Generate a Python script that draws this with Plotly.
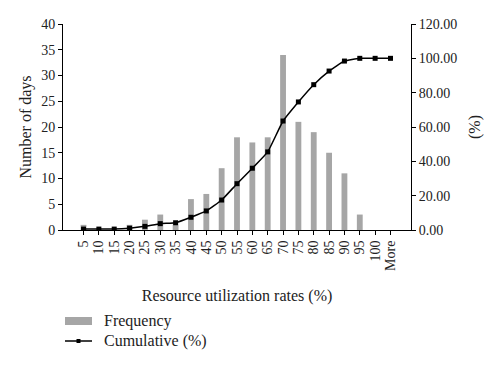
import plotly.graph_objects as go

categories = ["5", "10", "15", "20", "25", "30", "35", "40", "45", "50", "55",
              "60", "65", "70", "75", "80", "85", "90", "95", "100", "More"]
frequency = [1, 0, 0, 1, 2, 3, 1, 6, 7, 12, 18, 17, 18, 34, 21, 19, 15, 11, 3, 0, 0]
cumulative = [0.53, 0.53, 0.53, 1.06, 2.12, 3.70, 4.23, 7.41, 11.11, 17.46, 26.98,
              35.98, 45.50, 63.49, 74.60, 84.66, 92.59, 98.41, 100.0, 100.0, 100.0]

FONT = "Liberation Serif"
W, H = 500, 366
ML, MR, MT, MB = 63, 89, 24, 136
PW, PH = W - ML - MR, H - MT - MB


def px(x):
    return (x - ML) / PW


def py(y):
    return (H - MB - y) / PH


fig = go.Figure()
fig.add_trace(go.Bar(x=categories, y=frequency, name="Frequency",
                     marker=dict(color="#a6a6a6", line=dict(width=0)), width=0.38))
fig.add_trace(go.Scatter(x=categories, y=cumulative, name="Cumulative (%)", yaxis="y2",
                         mode="lines+markers",
                         line=dict(color="black", width=1.5, shape="spline", smoothing=0.4),
                         marker=dict(symbol="square", size=5, color="black")))

# legend drawn manually to match the wide swatch look
shapes = [
    dict(type="rect", xref="paper", yref="paper", x0=px(65), x1=px(92), y0=py(325), y1=py(317),
         fillcolor="#a6a6a6", line=dict(width=0)),
    dict(type="line", xref="paper", yref="paper", x0=px(65), x1=px(92), y0=py(341), y1=py(341),
         line=dict(color="black", width=1.5)),
    dict(type="rect", xref="paper", yref="paper", x0=px(76.5), x1=px(80.5), y0=py(343), y1=py(339),
         fillcolor="black", line=dict(width=0)),
]
annotations = [
    dict(text="Frequency", xref="paper", yref="paper", x=px(102), y=py(321), xanchor="left",
         yanchor="middle", showarrow=False, font=dict(family=FONT, size=16, color="#222")),
    dict(text="Cumulative (%)", xref="paper", yref="paper", x=px(102), y=py(341), xanchor="left",
         yanchor="middle", showarrow=False, font=dict(family=FONT, size=16, color="#222")),
]

fig.update_layout(
    width=W, height=H,
    margin=dict(l=ML, r=MR, t=MT, b=MB, autoexpand=False),
    paper_bgcolor="white", plot_bgcolor="white",
    font=dict(family=FONT, size=14, color="#222"),
    showlegend=False,
    shapes=shapes, annotations=annotations,
    xaxis=dict(type="category", tickmode="array", tickvals=categories, ticktext=categories,
               tickangle=-90, showline=True, linecolor="black", automargin=False,
               ticks="outside", ticklen=4, tickcolor="black", showgrid=False,
               tickfont=dict(family=FONT, size=14),
               title=dict(text="Resource utilization rates (%)", font=dict(family=FONT, size=16),
                          standoff=19)),
    yaxis=dict(range=[0, 40], dtick=5, showline=True, linecolor="black", ticks="outside",
               ticklen=4, tickcolor="black", showgrid=False, zeroline=False, automargin=False,
               tickfont=dict(family=FONT, size=14),
               title=dict(text="Number of days", font=dict(family=FONT, size=16), standoff=5)),
    yaxis2=dict(range=[0, 120], dtick=20, tickformat=".2f", overlaying="y", side="right",
                showline=True, linecolor="black", ticks="outside", ticklen=4, tickcolor="black",
                showgrid=False, zeroline=False, automargin=False,
                tickfont=dict(family=FONT, size=14),
                title=dict(text="(%)", font=dict(family=FONT, size=16), standoff=12)),
)

fig.write_html("out.html", config={"displayModeBar": False},
               post_script="document.body.style.margin='0';")
